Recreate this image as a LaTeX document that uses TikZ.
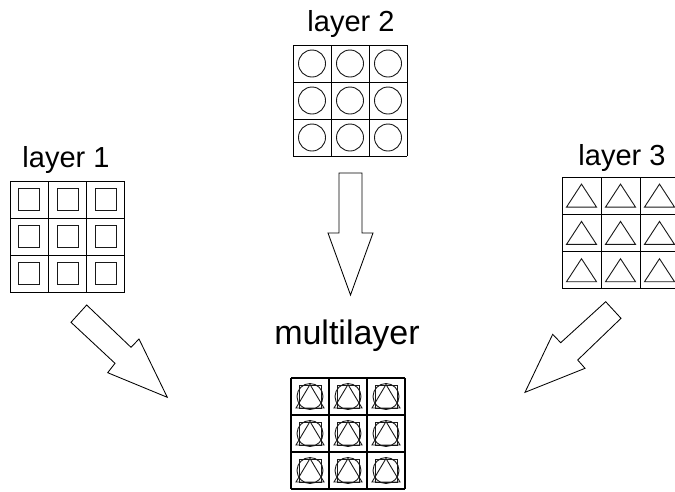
\documentclass[tikz,border=0pt]{standalone}
\usepackage{fontspec}
\setmainfont{Liberation Sans}
\begin{document}
\begin{tikzpicture}[x=1pt,y=-1pt,line join=miter]
\tikzset{
  gridline/.style={draw=black,line width=0.85pt},
  boldgrid/.style={draw=black,line width=1.4pt},
  glyph/.style={draw=black!90,line width=0.9pt},
  blockarrow/.style={draw=black,line width=0.85pt,fill=white},
  layerlabel/.style={anchor=base,inner sep=0pt,font=\fontsize{29}{34}\selectfont},
  biglabel/.style={anchor=base,inner sep=0pt,font=\fontsize{34}{40}\selectfont}
}
\useasboundingbox (0,0) rectangle (675,491);
\clip (0,0) rectangle (675,491);

% labels
\node[layerlabel] (lab1) at (66,167) {layer 1};
\node[layerlabel] (lab2) at (351,31) {layer 2};
\node[layerlabel] (lab3) at (622,165) {layer 3};
\node[biglabel] (labm) at (347,344) {multilayer};

% layer 1: squares
\foreach \i in {0,1,2}{
  \foreach \j in {0,1,2}{
    \pgfmathsetmacro{\cx}{10+38.3*\i+19.15}
    \pgfmathsetmacro{\cy}{181+37*\j+18.5}
    \draw[glyph] (\cx-10.5,\cy-11) rectangle (\cx+10.5,\cy+11);
  }
}
\foreach \k in {0,1,2,3}{
  \draw[gridline] (10+38.3*\k,181) -- (10+38.3*\k,292);
  \draw[gridline] (10,181+37*\k) -- (125,181+37*\k);
}

% layer 2: circles
\foreach \i in {0,1,2}{
  \foreach \j in {0,1,2}{
    \pgfmathsetmacro{\cx}{293+38*\i+19}
    \pgfmathsetmacro{\cy}{45+37*\j+18.5}
    \draw[glyph] (\cx,\cy) circle[radius=13.5];
  }
}
\foreach \k in {0,1,2,3}{
  \draw[gridline] (293+38*\k,45) -- (293+38*\k,156);
  \draw[gridline] (293,45+37*\k) -- (407,45+37*\k);
}

% layer 3: triangles
\foreach \i in {0,1,2}{
  \foreach \j in {0,1,2}{
    \pgfmathsetmacro{\cx}{562+39*\i+19.5}
    \pgfmathsetmacro{\cy}{177+37.3*\j+18.6}
    \draw[glyph] (\cx-15,\cy+11.5) -- (\cx,\cy-11.5) -- (\cx+15,\cy+11.5) -- cycle;
  }
}
\foreach \k in {0,1,2,3}{
  \draw[gridline] (562+39*\k,177) -- (562+39*\k,289);
  \draw[gridline] (562,177+37.3*\k) -- (679,177+37.3*\k);
}

% multilayer: all three glyphs stacked
\foreach \i in {0,1,2}{
  \foreach \j in {0,1,2}{
    \pgfmathsetmacro{\cx}{291+38*\i+19}
    \pgfmathsetmacro{\cy}{378+37*\j+18.5}
    \draw[glyph] (\cx-11,\cy-11.5) rectangle (\cx+11,\cy+11.5);
    \draw[glyph] (\cx,\cy) circle[radius=13];
    \draw[glyph] (\cx-14,\cy+11.5) -- (\cx,\cy-12) -- (\cx+14,\cy+11.5) -- cycle;
  }
}
\foreach \k in {0,1,2,3}{
  \draw[boldgrid] (291+38*\k,378) -- (291+38*\k,489);
  \draw[boldgrid] (291,378+37*\k) -- (405,378+37*\k);
}

% block arrows
\draw[blockarrow] (86.7,305) -- (131,347.3) -- (139,339) -- (167.3,397.3)
  -- (107.7,372.7) -- (115,363.3) -- (71,322.3) -- cycle;
\draw[blockarrow] (339,173) -- (362,173) -- (362,233) -- (373,233)
  -- (350.5,295) -- (328,233) -- (339,233) -- cycle;
\draw[blockarrow] (605.7,301.7) -- (621,318.3) -- (577.7,360) -- (585,368.3)
  -- (525,392.3) -- (552.7,334.3) -- (560.7,342.7) -- cycle;
\end{tikzpicture}
\end{document}
